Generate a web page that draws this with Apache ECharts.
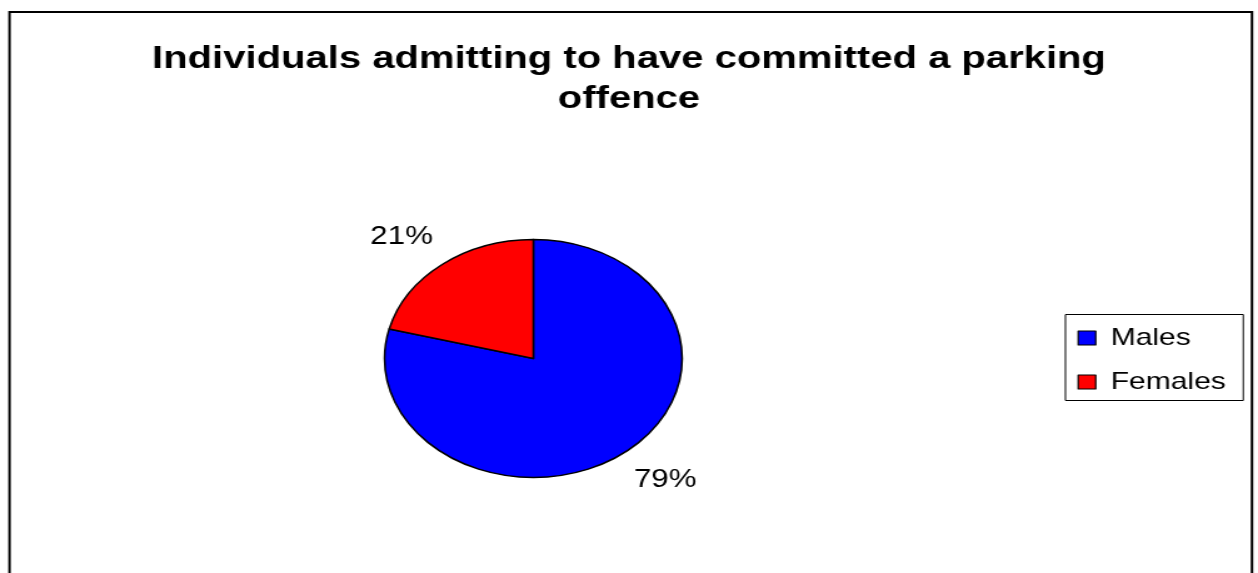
<!DOCTYPE html>
<html><head><meta charset="utf-8">
<script src="https://cdn.jsdelivr.net/npm/echarts@6/dist/echarts.min.js"></script>
<style>
html,body{margin:0;padding:0;background:#fff;overflow:hidden;width:1258px;height:573px;}
#chart{width:1006px;height:573px;transform:scaleX(1.2505);transform-origin:0 0;}
</style></head><body><div id="chart"></div>
<script>
const titleLines = ['Individuals admitting to have committed a parking', 'offence'];
const categories = ['Males', 'Females'];
const values = [79, 21];

const FONT = 'Liberation Sans, Arial, Helvetica, sans-serif';
const chart = echarts.init(document.getElementById('chart'), null, {renderer: 'canvas'});
chart.setOption({
  animation: false,
  backgroundColor: '#ffffff',
  color: ['#0000FF', '#FF0000'],
  title: {
    text: titleLines.join('\n'),
    left: 'center',
    top: 39,
    padding: 0,
    textStyle: {fontFamily: FONT, fontWeight: 'bold', fontSize: 32, lineHeight: 40, color: '#000'}
  },
  graphic: [{
    type: 'rect', silent: true, z: 100,
    shape: {x: 7.6, y: 12, width: 993.6, height: 620},
    style: {fill: 'none', stroke: '#000', lineWidth: 2}
  }],
  legend: {
    orient: 'vertical',
    left: 852, top: 314.5,
    data: categories,
    icon: 'rect',
    itemWidth: 14, itemHeight: 14, itemGap: 14,
    padding: [8.5, 14, 3.5, 9.6],
    borderColor: '#000', borderWidth: 1, backgroundColor: '#fff',
    selectedMode: false,
    itemStyle: {borderColor: '#000', borderWidth: 1.2},
    textStyle: {fontFamily: FONT, fontSize: 24, lineHeight: 24, color: '#000', padding: [0, 0, 6, 7]}
  },
  series: [{
    type: 'pie',
    center: [426.5, 358.5],
    radius: 119,
    startAngle: 90,
    clockwise: true,
    avoidLabelOverlap: false,
    emphasis: {disabled: true, scale: false},
    itemStyle: {borderColor: '#000', borderWidth: 1.5},
    label: {
      show: true, position: 'outside', formatter: '{d}%',
      fontFamily: FONT, fontSize: 25, color: '#000',
      distanceToLabelLine: -14
    },
    labelLine: {show: false, length: 35, length2: 0},
    data: categories.map((c, i) => ({name: c, value: values[i]}))
  }]
});
</script></body></html>
